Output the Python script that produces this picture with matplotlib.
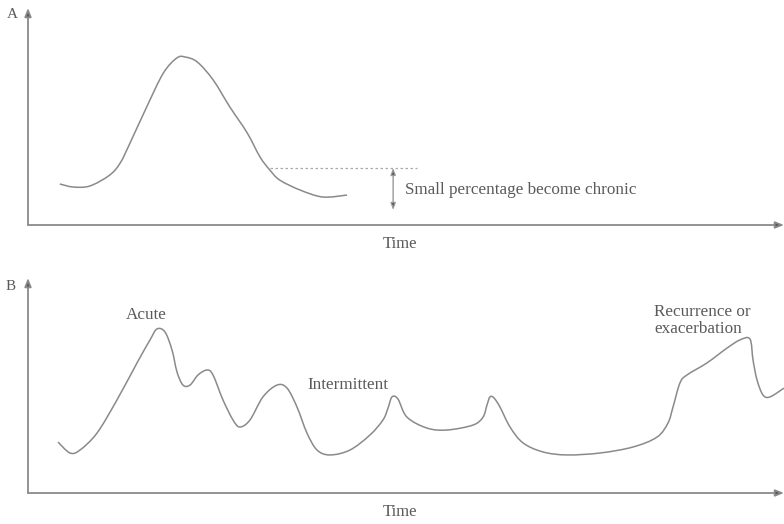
import matplotlib.pyplot as plt
from matplotlib.path import Path
from matplotlib.patches import PathPatch

# panel A: acute illness, time 0-100, level 0-100
timeA = [4.2, 6.0, 8.2, 10.8, 12.2, 13.5, 15.7, 17.9, 19.7, 20.8, 22.4, 24.5,
         26.7, 29.0, 30.7, 32.0, 33.3, 36.0, 39.0, 42.2]
levelA = [18.9, 17.5, 18.0, 23.0, 28.6, 37.8, 54.4, 70.0, 77.0, 77.4, 75.1, 66.8,
          54.4, 42.4, 31.3, 25.3, 20.7, 16.1, 12.9, 13.8]
chronicLevel = 26.3
chronicFrom, chronicTo = 32.0, 51.5
arrowTime, arrowLow = 48.3, 6.9

# panel B: chronic course
timeB = [3.97, 5.56, 6.88, 9.13, 11.77, 14.42, 16.14, 17.06, 18.12, 19.05, 19.71,
         20.50, 21.43, 22.49, 23.68, 24.47, 25.79, 27.12, 28.04, 29.37, 31.08,
         32.94, 34.26, 35.58, 36.90, 38.23, 39.95, 42.59, 45.24, 46.96, 47.62,
         48.15, 48.94, 50.13, 52.78, 55.42, 58.86, 60.19, 60.71, 61.11, 61.64,
         62.43, 63.76, 65.48, 68.12, 71.30, 75.66, 80.03, 83.20, 84.66, 85.32,
         86.24, 87.17, 89.81, 92.46, 94.18, 95.50, 95.90, 96.43, 97.22, 98.15, 100.0]
levelB = [23.7, 18.6, 20.0, 27.9, 43.3, 60.5, 71.2, 76.3, 74.9, 66.5, 56.3,
          50.2, 50.2, 54.9, 57.2, 54.9, 43.3, 33.95, 30.7, 34.0, 44.7,
          50.2, 48.8, 40.0, 27.9, 20.0, 17.7, 20.0, 27.0, 34.0, 39.5,
          44.7, 43.7, 35.3, 30.2, 29.3, 31.6, 35.3, 40.9, 44.7, 44.2,
          40.0, 30.7, 23.3, 19.1, 17.7, 18.6, 21.4, 26.0, 32.6, 40.0,
          51.2, 54.9, 60.5, 67.4, 71.2, 71.6, 61.9, 52.6, 45.6, 44.7, 48.8]

LINE = '#8a8a8a'
TEXT = '#5a5a5a'
plt.rcParams['font.family'] = ['Liberation Serif', 'DejaVu Serif']

fig = plt.figure(figsize=(7.84, 5.24), dpi=100)
axA = fig.add_axes([28/784, 299/524, 756/784, 217/524])
axB = fig.add_axes([28/784, 31/524, 756/784, 215/524])


def smooth_line(ax, xs, ys, **kw):
    # cubic bezier path through the points (catmull-rom style handles)
    pts = list(zip(xs, ys))
    verts = [pts[0]]
    codes = [Path.MOVETO]
    for i in range(len(pts) - 1):
        p0 = pts[max(i - 1, 0)]
        p1 = pts[i]
        p2 = pts[i + 1]
        p3 = pts[min(i + 2, len(pts) - 1)]
        c1 = (p1[0] + (p2[0] - p0[0]) / 6, p1[1] + (p2[1] - p0[1]) / 6)
        c2 = (p2[0] - (p3[0] - p1[0]) / 6, p2[1] - (p3[1] - p1[1]) / 6)
        verts += [c1, c2, p2]
        codes += [Path.CURVE4] * 3
    ax.add_patch(PathPatch(Path(verts, codes), fill=False, **kw))


def draw_axes(ax):
    ax.set_xlim(0, 100)
    ax.set_ylim(0, 100)
    ax.axis('off')
    ax.annotate('', xy=(0, 1), xytext=(0, 0), xycoords='axes fraction',
                arrowprops=dict(arrowstyle='-|>,head_width=0.2,head_length=0.5',
                                color=LINE, lw=1.3, shrinkA=0, shrinkB=0,
                                fc='#555555'), annotation_clip=False)
    ax.annotate('', xy=(1.0, 0), xytext=(0, 0), xycoords='axes fraction',
                arrowprops=dict(arrowstyle='-|>,head_width=0.2,head_length=0.5',
                                color=LINE, lw=1.3, shrinkA=0, shrinkB=0,
                                fc='#555555'), annotation_clip=False)
    ax.text(0.492, -0.088, 'Time', transform=ax.transAxes, ha='center',
            va='center', fontsize=12, color=TEXT)


draw_axes(axA)
smooth_line(axA, timeA, levelA, edgecolor=LINE, lw=1.1)
axA.plot([chronicFrom, chronicTo], [chronicLevel, chronicLevel], color='#aaaaaa',
         lw=0.9, ls=(0, (2, 2)))
axA.annotate('', xy=(arrowTime, chronicLevel), xytext=(arrowTime, arrowLow),
             arrowprops=dict(arrowstyle='<|-|>,head_width=0.15,head_length=0.4',
                             color='#999999', fc='#444444', lw=1.0,
                             shrinkA=0, shrinkB=0))
axA.text(49.9, 16.1, 'Small percentage become chronic', fontsize=12.3,
         color=TEXT, va='center', ha='left')

draw_axes(axB)
smooth_line(axB, timeB, levelB, edgecolor=LINE, lw=1.1, clip_on=False)
axB.text(15.6, 82.8, 'Acute', fontsize=12.3, color=TEXT, ha='center', va='center')
axB.text(37.0, 50.2, 'Intermittent', fontsize=12.3, color=TEXT, ha='left', va='center')
axB.text(82.8, 80.2, 'Recurrence or\nexacerbation', fontsize=12.3, color=TEXT,
         ha='left', va='center', linespacing=1.1)

fig.text(12/784, 1 - 14/524, 'A', fontsize=11, color=TEXT, ha='center', va='center')
fig.text(11/784, 1 - 286/524, 'B', fontsize=11, color=TEXT, ha='center', va='center')

fig.savefig('out.png', dpi=100, facecolor='white')
